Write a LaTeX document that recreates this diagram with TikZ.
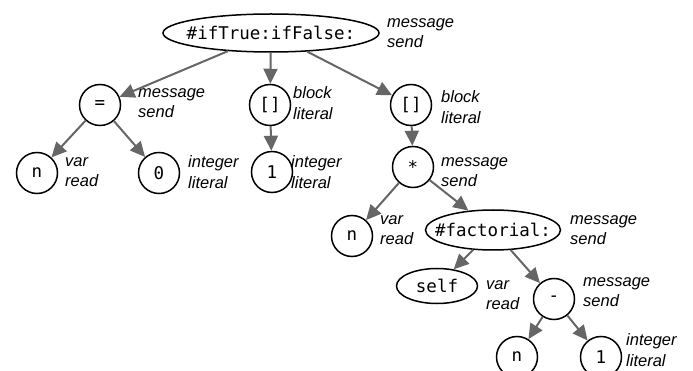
\documentclass[tikz,border=0pt]{standalone}
\usepackage{fontspec}
\setmainfont{Liberation Sans}
\setmonofont{DejaVu Sans Mono}
\usetikzlibrary{shapes,arrows.meta,positioning}
\definecolor{edgegray}{HTML}{666666}
\tikzstyle{ast} = [circle,draw=black,line width=1.5pt,minimum size=41pt,inner sep=0pt,font=\fontsize{17.5}{20}\selectfont\ttfamily]
\tikzstyle{oval} = [ellipse,draw=black,line width=1.5pt,inner xsep=-20pt,inner ysep=0pt,font=\fontsize{17.5}{20}\selectfont\ttfamily]
\tikzstyle{kind} = [anchor=west,inner sep=0pt,align=left,font=\fontsize{16.5}{20.5}\selectfont\itshape]
\tikzstyle{edge} = [draw=edgegray,line width=2pt,-{Triangle[length=15pt,width=14pt]}]

\begin{document}
\begin{tikzpicture}[x=1pt,y=-1pt]
    \useasboundingbox (0,0) rectangle (693,371);

    % nodes of the tree
    \node [oval,minimum width=216pt,minimum height=38pt] (root) at (271,33) {\#ifTrue:ifFalse:};
    \node [ast] (eq) at (100,105) {=};
    \node [ast] (blk1) at (270,105) {[]};
    \node [ast] (blk2) at (411,105) {[]};
    \node [ast] (nA) at (37,173) {n};
    \node [ast] (zero) at (159,173) {0};
    \node [ast] (one) at (272,172) {1};
    \node [ast] (mul) at (413,167) {*};
    \node [ast] (nB) at (352,236) {n};
    \node [oval,minimum width=135pt,minimum height=40pt] (fact) at (493,230) {\#factorial:};
    \node [oval,minimum width=81pt,minimum height=35pt] (self) at (437,286) {self};
    \node [ast] (minus) at (554,299) {-};
    \node [ast] (nC) at (517,357) {n};
    \node [ast] (oneB) at (601,357) {1};

    % kind labels
    \node [kind] (rootkind) at (387,33) {message\\send};
    \node [kind] (eqkind) at (138,103) {message\\send};
    \node [kind] (blk1kind) at (293,103) {block\\literal};
    \node [kind] (blk2kind) at (441,107) {block\\literal};
    \node [kind] (nAkind) at (65,172) {var\\read};
    \node [kind] (zerokind) at (188,172) {integer\\literal};
    \node [kind] (onekind) at (291,172) {integer\\literal};
    \node [kind] (mulkind) at (441,172) {message\\send};
    \node [kind] (nBkind) at (380,230) {var\\read};
    \node [kind] (factkind) at (570,230) {message\\send};
    \node [kind] (selfkind) at (486,295) {var\\read};
    \node [kind] (minuskind) at (583,292) {message\\send};
    \node [kind] (oneBkind) at (626,350) {integer\\literal};

    % edges
    \foreach \a/\b in {root/eq,root/blk1,root/blk2,eq/nA,eq/zero,blk1/one,blk2/mul,
                       mul/nB,mul/fact,fact/self,fact/minus,minus/nC,minus/oneB}
      \draw [edge] (\a) -- (\b);
\end{tikzpicture}
\end{document}
